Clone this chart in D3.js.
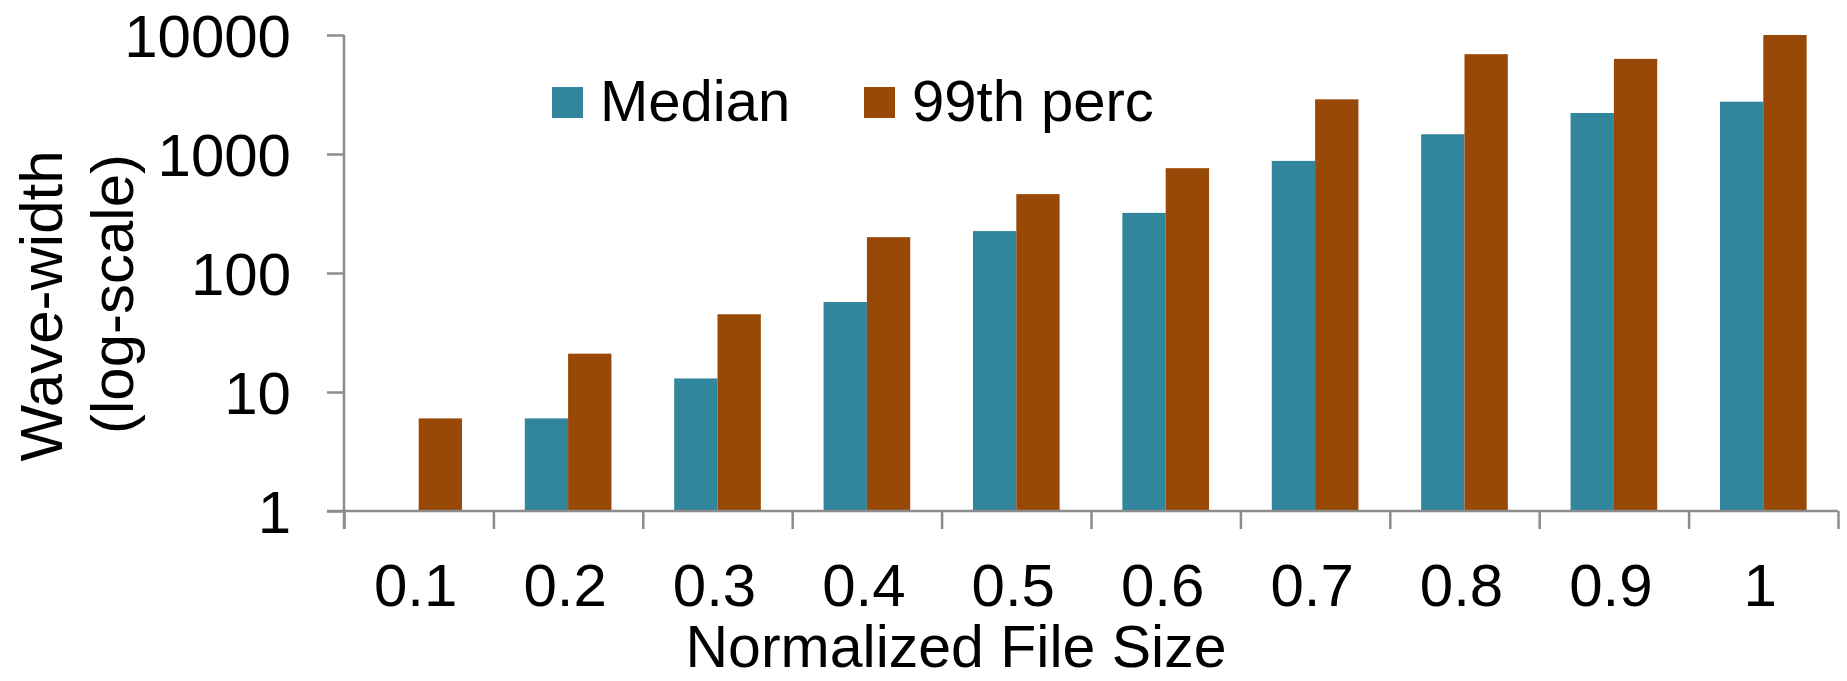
<!DOCTYPE html>
<html>
<head>
<meta charset="utf-8">
<script src="https://cdn.jsdelivr.net/npm/d3@7"></script>
<style>
  body { margin: 0; background: #fff; }
  text { font-family: "Liberation Sans", Arial, Helvetica, sans-serif; fill: #000; }
</style>
</head>
<body>
<div id="chart"></div>
<script>
// data
var categories = ["0.1", "0.2", "0.3", "0.4", "0.5", "0.6", "0.7", "0.8", "0.9", "1"];
var seriesNames = ["Median", "99th perc"];
var median = [1, 6, 13, 57, 225, 320, 875, 1465, 2210, 2750];
var perc99 = [6, 21, 45, 200, 460, 760, 2880, 6900, 6300, 10000];
var yTicks = [1, 10, 100, 1000, 10000];
var colors = ["#31859c", "#984807"];

var width = 1847, height = 681;
var plotLeft = 344, plotRight = 1838, plotTop = 35, plotBottom = 511;

var svg = d3.select("#chart").append("svg")
  .attr("width", width)
  .attr("height", height);

var x0 = d3.scaleBand().domain(categories).range([plotLeft, plotRight]).padding(0);
var x1 = d3.scaleBand().domain(seriesNames)
  .range([x0.bandwidth() * 0.21, x0.bandwidth() * 0.79]);
var xEdge = d3.scaleLinear().domain([0, categories.length]).range([plotLeft, plotRight]);
var y = d3.scaleLog().domain([1, 10000]).range([plotBottom, plotTop]);

// bars
var rows = categories.map(function (c, i) {
  return {cat: c, values: [median[i], perc99[i]]};
});

var groups = svg.append("g").selectAll("g")
  .data(rows)
  .enter().append("g")
  .attr("transform", function (d) { return "translate(" + x0(d.cat) + ",0)"; });

groups.selectAll("rect")
  .data(function (d) {
    return d.values.map(function (v, j) { return {name: seriesNames[j], value: v, j: j}; });
  })
  .enter().append("rect")
  .attr("x", function (d) { return x1(d.name); })
  .attr("width", x1.bandwidth())
  .attr("y", function (d) { return y(d.value); })
  .attr("height", function (d) { return plotBottom - y(d.value); })
  .attr("fill", function (d) { return colors[d.j]; });

// y axis
var yAxis = svg.append("g")
  .attr("transform", "translate(" + plotLeft + ",0)")
  .call(d3.axisLeft(y).tickValues(yTicks).tickSize(17).tickPadding(36)
    .tickFormat(d3.format("d")));
yAxis.select(".domain").remove();
yAxis.append("line")
  .attr("x1", 0).attr("x2", 0)
  .attr("y1", plotTop).attr("y2", plotBottom + 18)
  .attr("stroke", "#8c8c8c").attr("stroke-width", 2.5);
yAxis.selectAll(".tick line").attr("stroke", "#8c8c8c").attr("stroke-width", 2.5);
yAxis.selectAll(".tick text")
  .style("font-size", "60px")
  .attr("dy", "0.36em")
  .attr("fill", "#000");

// x axis: boundary ticks
var xAxis = svg.append("g")
  .attr("transform", "translate(0," + plotBottom + ")")
  .call(d3.axisBottom(xEdge).ticks(categories.length).tickSize(18).tickFormat(""));
xAxis.select(".domain").remove();
xAxis.append("line")
  .attr("x1", plotLeft - 17).attr("x2", plotRight)
  .attr("y1", 0).attr("y2", 0)
  .attr("stroke", "#8c8c8c").attr("stroke-width", 2.5);
xAxis.selectAll(".tick line").attr("stroke", "#8c8c8c").attr("stroke-width", 2.5);

// x labels
svg.append("g").selectAll("text")
  .data(categories)
  .enter().append("text")
  .attr("x", function (d) { return x0(d) + x0.bandwidth() / 2 - 3; })
  .attr("y", 606)
  .attr("text-anchor", "middle")
  .style("font-size", "60px")
  .text(function (d) { return d; });

// axis titles
svg.append("text")
  .attr("x", 956)
  .attr("y", 667)
  .attr("text-anchor", "middle")
  .style("font-size", "59px")
  .text("Normalized File Size");

svg.append("text")
  .attr("transform", "translate(62,306) rotate(-90)")
  .attr("text-anchor", "middle")
  .style("font-size", "60px")
  .text("Wave-width");

svg.append("text")
  .attr("transform", "translate(133,294) rotate(-90)")
  .attr("text-anchor", "middle")
  .style("font-size", "60px")
  .text("(log-scale)");

// legend
var legendX = [552, 864];
var legend = svg.append("g").selectAll("g")
  .data(seriesNames)
  .enter().append("g")
  .attr("transform", function (d, i) { return "translate(" + legendX[i] + ",0)"; });

legend.append("rect")
  .attr("x", 0).attr("y", 87)
  .attr("width", 31).attr("height", 31)
  .attr("fill", function (d, i) { return colors[i]; });

legend.append("text")
  .attr("x", 48)
  .attr("y", 121)
  .style("font-size", "58px")
  .text(function (d) { return d; });
</script>
</body>
</html>
